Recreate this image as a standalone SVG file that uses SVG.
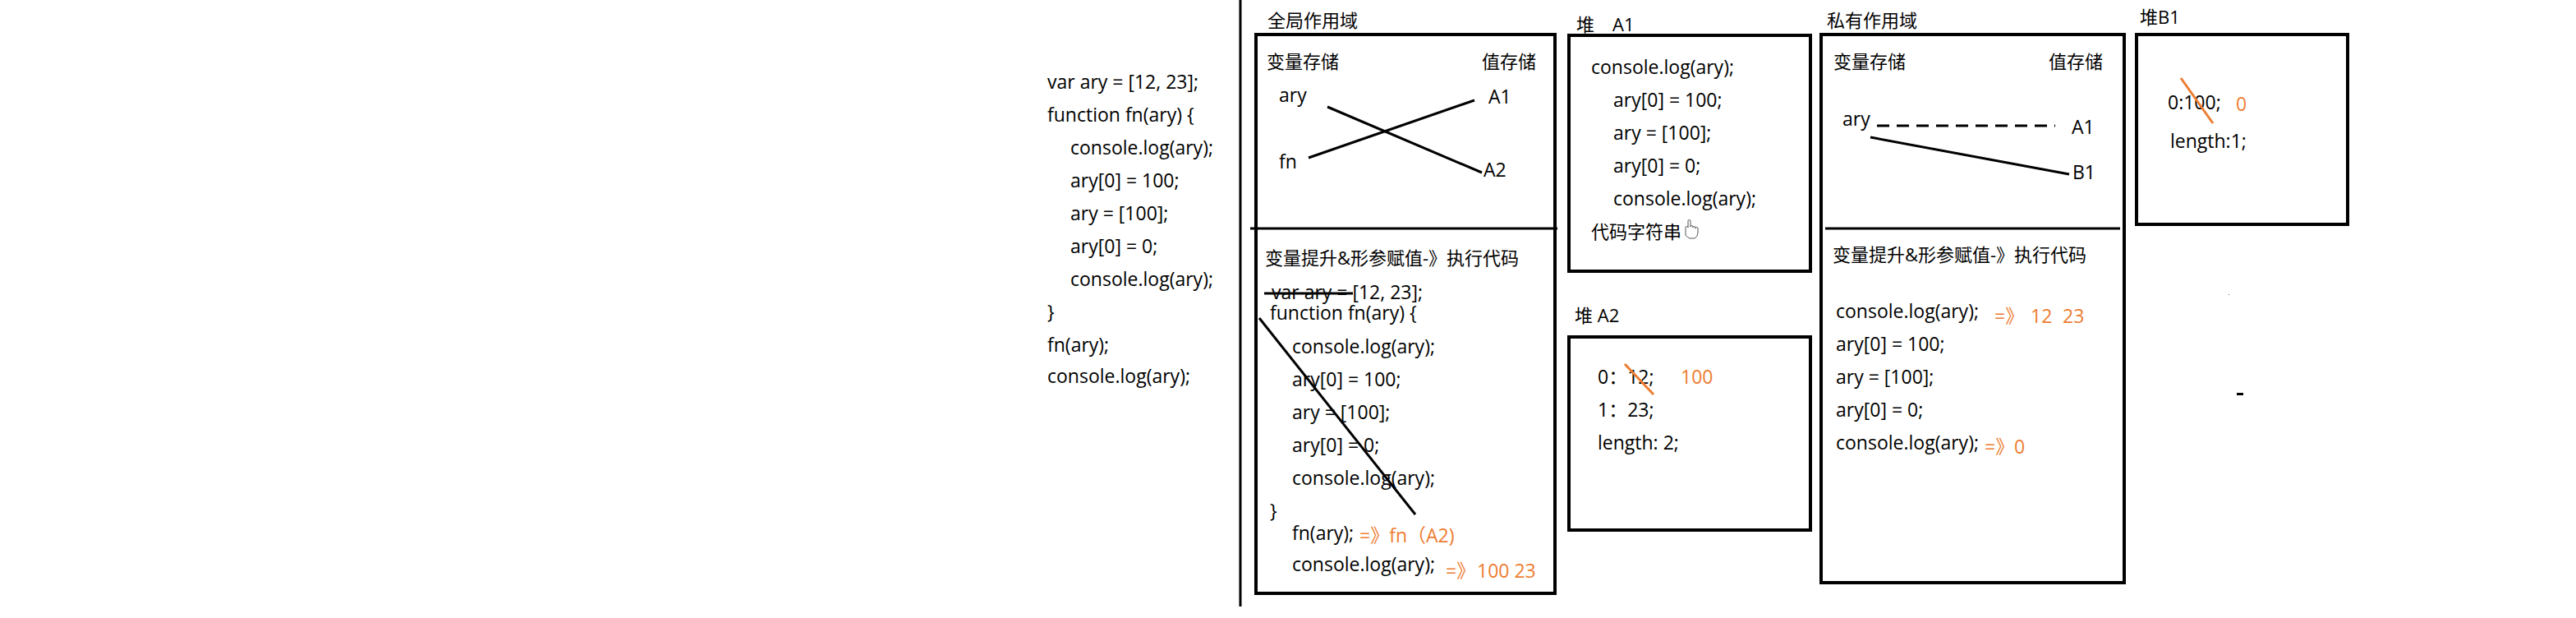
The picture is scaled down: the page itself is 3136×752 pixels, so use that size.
<svg xmlns="http://www.w3.org/2000/svg" width="3136" height="752" viewBox="0 0 3136 752">
<style>
text{font-family:"Open Sans","Noto Sans CJK SC",sans-serif;font-size:23px;fill:#000}
.c{font-size:22px}
.o{fill:#ED7D31}
.box{fill:none;stroke:#000;stroke-width:4}
.ln{stroke:#000;stroke-width:3;fill:none}
.ol{stroke:#ED7D31;stroke-width:3;fill:none}
</style>
<rect width="3136" height="752" fill="#fff"/>
<g id="source-code">
<text x="1275" y="108">var ary = [12, 23];</text>
<text x="1275" y="148">function fn(ary) {</text>
<text x="1303" y="188">console.log(ary);</text>
<text x="1303" y="228">ary[0] = 100;</text>
<text x="1303" y="268">ary = [100];</text>
<text x="1303" y="308">ary[0] = 0;</text>
<text x="1303" y="348">console.log(ary);</text>
<text x="1275" y="388">}</text>
<text x="1275" y="428">fn(ary);</text>
<text x="1275" y="466">console.log(ary);</text>
</g>
<line class="ln" x1="1510" y1="0" x2="1510" y2="738"/>
<g id="global-scope">
<text class="c" x="1543" y="33">全局作用域</text>
<rect class="box" x="1529" y="42" width="364" height="680"/>
<line class="ln" x1="1522" y1="278" x2="1896" y2="278"/>
<text class="c" x="1542" y="83">变量存储</text>
<text class="c" x="1804" y="83">值存储</text>
<text x="1557" y="124">ary</text>
<text x="1557" y="205">fn</text>
<text x="1812" y="126">A1</text>
<text x="1806" y="215">A2</text>
<text class="c" x="1540" y="322">变量提升&amp;形参赋值-》执行代码</text>
<text x="1548" y="364">var ary = [12, 23];</text>
<text x="1546" y="389">function fn(ary) {</text>
<text x="1573" y="430">console.log(ary);</text>
<text x="1573" y="470">ary[0] = 100;</text>
<text x="1573" y="510">ary = [100];</text>
<text x="1573" y="550">ary[0] = 0;</text>
<text x="1573" y="590">console.log(ary);</text>
<text x="1546" y="630">}</text>
<text x="1573" y="657">fn(ary);</text>
<text class="o" x="1655" y="660">=》fn（A2)</text>
<text x="1573" y="695">console.log(ary);</text>
<text class="o" x="1760" y="703">=》<tspan x="1798">100 23</tspan></text>
</g>
<g id="heap-A1">
<text class="c" x="1919" y="38">堆　A1</text>
<rect class="box" x="1910" y="43" width="294" height="287"/>
<text x="1937" y="90">console.log(ary);</text>
<text x="1964" y="130">ary[0] = 100;</text>
<text x="1964" y="170">ary = [100];</text>
<text x="1964" y="210">ary[0] = 0;</text>
<text x="1964" y="250">console.log(ary);</text>
<text class="c" x="1937" y="290">代码字符串</text>
<path d="M2052 286 v-9 a1.5 1.5 0 0 1 3 0 v-8 a1.5 1.5 0 0 1 3 0 v7 a1.5 1.5 0 0 1 3 0 v1 a1.5 1.5 0 0 1 3 0 v1 a1.5 1.5 0 0 1 3 0 v5 q0 5 -4 7 h-6 q-3 -1 -5 -4 z" fill="#fff" stroke="#555" stroke-width="1"/>
</g>
<g id="heap-A2">
<text class="c" x="1917" y="392">堆 A2</text>
<rect class="box" x="1910" y="410" width="294" height="235"/>
<text x="1945" y="467">0：12;</text>
<text class="o" x="2046" y="467">100</text>
<text x="1945" y="507">1：23;</text>
<text x="1945" y="547">length: 2;</text>
</g>
<g id="private-scope">
<text class="c" x="2224" y="33">私有作用域</text>
<rect class="box" x="2217" y="42" width="369" height="667"/>
<line class="ln" x1="2222" y1="278" x2="2581" y2="278"/>
<text class="c" x="2232" y="83">变量存储</text>
<text class="c" x="2494" y="83">值存储</text>
<text x="2243" y="153">ary</text>
<text x="2522" y="163">A1</text>
<text x="2523" y="218">B1</text>
<text class="c" x="2231" y="318">变量提升&amp;形参赋值-》执行代码</text>
<text x="2235" y="387">console.log(ary);</text>
<text class="o" x="2428" y="393">=》<tspan x="2472">12</tspan><tspan x="2511">23</tspan></text>
<text x="2235" y="427">ary[0] = 100;</text>
<text x="2235" y="467">ary = [100];</text>
<text x="2235" y="507">ary[0] = 0;</text>
<text x="2235" y="547">console.log(ary);</text>
<text class="o" x="2416" y="552">=》<tspan x="2452">0</tspan></text>
</g>
<g id="heap-B1">
<text class="c" x="2605" y="29">堆B1</text>
<rect class="box" x="2601" y="42" width="257" height="231"/>
<text x="2639" y="133">0:100;</text>
<text class="o" x="2722" y="135">0</text>
<text x="2642" y="180">length:1;</text>
</g>
<g id="connectors">
<line class="ln" x1="1616" y1="130" x2="1804" y2="210"/>
<line class="ln" x1="1593" y1="192" x2="1795" y2="122"/>
<line class="ln" x1="1539" y1="357" x2="1647" y2="357" stroke-width="4"/>
<line class="ln" x1="1533" y1="387" x2="1723" y2="626"/>
<line class="ol" x1="1978" y1="443" x2="2013" y2="480"/>
<line class="ln" x1="2285" y1="153" x2="2502" y2="153" stroke-dasharray="15 9"/>
<line class="ln" x1="2277" y1="167" x2="2519" y2="212"/>
<line class="ol" x1="2655" y1="95" x2="2694" y2="150"/>
</g>
<rect x="2713" y="358" width="1" height="1" fill="#666"/>
<rect x="2723" y="478" width="8" height="3" fill="#000"/>
</svg>
